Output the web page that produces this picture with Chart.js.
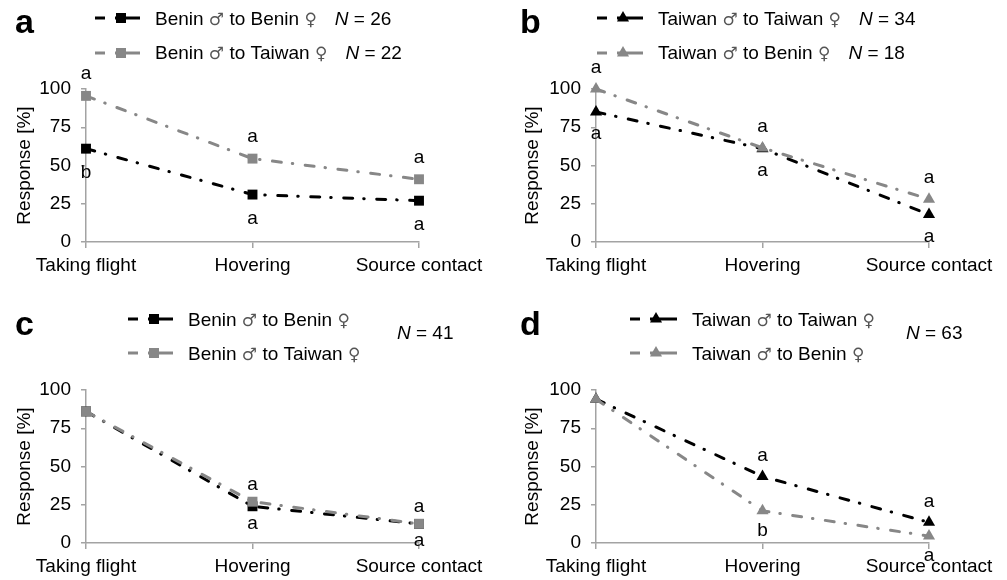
<!DOCTYPE html>
<html lang="en">
<head>
<meta charset="UTF-8">
<title>Response of males to female odour sources</title>
<script src="https://cdn.jsdelivr.net/npm/chart.js"></script>
<style>
  body { margin: 0; background: #fff; }
  #wrap { position: relative; width: 1007px; height: 580px; overflow: hidden; }
  canvas { position: absolute; }
</style>
</head>
<body>
<div id="wrap">
  <canvas id="chartA" width="503" height="290" style="left:0;top:0"></canvas>
  <canvas id="chartB" width="504" height="290" style="left:503px;top:0"></canvas>
  <canvas id="chartC" width="503" height="290" style="left:0;top:290px"></canvas>
  <canvas id="chartD" width="504" height="290" style="left:503px;top:290px"></canvas>
</div>
<script>
// categories and ticks
const stages = ['Taking flight', 'Hovering', 'Source contact'];
const yTicks = [0, 25, 50, 75, 100];

// panel a
const aBeninToBenin = [61, 31, 27];
const aBeninToTaiwan = [95.5, 54.5, 41];
const aLettersAbove = ['a', 'a', 'a'];
const aLettersBelow = ['b', 'a', 'a'];
const aN = ['26', '22'];

// panel b
const bTaiwanToTaiwan = [85, 61, 18];
const bTaiwanToBenin = [100, 61.5, 28];
const bLettersAbove = ['a', 'a', 'a'];
const bLettersBelow = ['a', 'a', 'a'];
const bN = ['34', '18'];

// panel c
const cBeninToBenin = [86, 24, 12.5];
const cBeninToTaiwan = [86, 27, 12.5];
const cLettersAbove = ['', 'a', 'a'];
const cLettersBelow = ['', 'a', 'a'];
const cN = ['41'];

// panel d
const dTaiwanToTaiwan = [94, 43.5, 13.5];
const dTaiwanToBenin = [94, 21, 4.5];
const dLettersAbove = ['', 'a', 'a'];
const dLettersBelow = ['', 'b', 'a'];
const dN = ['63'];

const BLACK = '#000000';
const GRAY = '#878787';
const AXIS = '#a3a3a3';
const FONT = 'Liberation Sans, Arial, sans-serif';
const SYMFONT = '17px DejaVu Sans';
const FS = 19;
const XAXIS_H = 36;

function drawMarker(ctx, style, x, y, color) {
    ctx.fillStyle = color;
    ctx.beginPath();
    if (style === 'triangle') {
        const r = 7;
        ctx.moveTo(x, y - r);
        ctx.lineTo(x + r * 0.866, y + r * 0.5);
        ctx.lineTo(x - r * 0.866, y + r * 0.5);
        ctx.closePath();
    } else {
        ctx.rect(x - 5, y - 5, 10, 10);
    }
    ctx.fill();
}

// draws a legend name, sex symbols in a thinner symbol font; returns the end x
function drawName(ctx, name, x, y) {
    name.split(/([\u2640\u2642])/).forEach(part => {
        if (!part) return;
        const sym = part === '\u2640' || part === '\u2642';
        ctx.font = sym ? SYMFONT : FS + 'px ' + FONT;
        ctx.fillStyle = sym ? '#555' : '#000';
        ctx.fillText(part, x, y);
        x += ctx.measureText(part).width;
    });
    ctx.fillStyle = '#000';
    return x;
}

function drawN(ctx, n, x, y) {
    ctx.font = 'italic ' + FS + 'px ' + FONT;
    ctx.fillText('N', x, y);
    const w = ctx.measureText('N').width;
    ctx.font = FS + 'px ' + FONT;
    ctx.fillText(' = ' + n, x + w, y);
}

// legend, N, panel letter and significance letters
const decor = {
    id: 'decor',
    afterDatasetsDraw(chart, args, o) {
        const ctx = chart.ctx;
        const xs = chart.scales.x, ys = chart.scales.y;
        const d0 = chart.data.datasets[0].data, d1 = chart.data.datasets[1].data;
        ctx.save();
        ctx.fillStyle = '#000';
        ctx.font = FS + 'px ' + FONT;
        ctx.textAlign = 'center';
        ctx.textBaseline = 'middle';
        stages.forEach((s, i) => {
            const x = xs.getPixelForValue(i);
            const top = ys.getPixelForValue(Math.max(d0[i], d1[i]));
            const bot = ys.getPixelForValue(Math.min(d0[i], d1[i]));
            if (o.above[i]) ctx.fillText(o.above[i], x, top - o.up);
            if (o.below[i]) ctx.fillText(o.below[i], x, bot + o.down);
        });

        // panel letter
        ctx.textAlign = 'left';
        ctx.textBaseline = 'alphabetic';
        ctx.font = 'bold 34px ' + FONT;
        ctx.fillText(o.letter, o.letterX, o.letterY);

        // legend rows
        const lg = o.legend;
        o.names.forEach((name, r) => {
            const y = lg.rows[r];
            const color = r === 0 ? BLACK : GRAY;
            ctx.strokeStyle = color;
            ctx.lineWidth = 3;
            ctx.beginPath();
            ctx.moveTo(lg.x1, y); ctx.lineTo(lg.x1 + 10, y);
            ctx.moveTo(lg.x1 + 20, y); ctx.lineTo(lg.x2, y);
            ctx.stroke();
            drawMarker(ctx, o.marker, lg.x1 + 26, y, color);
            const end = drawName(ctx, name, lg.textX, lg.base[r]);
            if (o.nInline) drawN(ctx, o.sizes[r], end + 18, lg.base[r]);
        });
        if (!o.nInline) drawN(ctx, o.sizes[0], lg.nX, lg.nY);
        ctx.restore();
    }
};

function makePanel(id, cfg) {
    const canvas = document.getElementById(id);
    const W = canvas.width, H = canvas.height;
    const a = cfg.area;
    const line = (label, data, color, order) => ({
        label, data, order,
        borderColor: color, backgroundColor: color, borderWidth: 3,
        borderDash: [9, 11, 0.5, 12.5], borderCapStyle: 'round',
        pointStyle: cfg.marker, pointRadius: 7, pointBorderWidth: 0,
        pointBackgroundColor: color, tension: 0, clip: false
    });
    return new Chart(canvas, {
        type: 'line',
        data: {
            labels: stages,
            datasets: [
                line(cfg.names[1], cfg.series[1], GRAY, 0),
                line(cfg.names[0], cfg.series[0], BLACK, 1)
            ]
        },
        options: {
            responsive: false,
            animation: false,
            events: [],
            layout: { padding: { left: 0, top: a.top, right: W - a.right, bottom: H - a.bottom - XAXIS_H } },
            plugins: {
                legend: { display: false },
                tooltip: { enabled: false },
                decor: {
                    above: cfg.above, below: cfg.below, up: cfg.up, down: cfg.down,
                    letter: cfg.letter, letterX: cfg.letterX, letterY: cfg.letterY,
                    names: cfg.names, sizes: cfg.sizes, marker: cfg.marker,
                    legend: cfg.legend, nInline: cfg.nInline
                }
            },
            scales: {
                x: {
                    offset: false,
                    grid: { drawOnChartArea: false, offset: false, color: AXIS, lineWidth: 1.5, tickLength: 6 },
                    border: { color: AXIS, width: 1.5 },
                    ticks: { color: '#000', font: { family: FONT, size: FS }, padding: 6, maxRotation: 0, autoSkip: false },
                    afterFit: s => { s.height = XAXIS_H; }
                },
                y: {
                    min: 0, max: 100,
                    afterBuildTicks: s => { s.ticks = yTicks.map(v => ({ value: v })); },
                    grid: { drawOnChartArea: false, color: AXIS, lineWidth: 1.5, tickLength: 5 },
                    border: { color: AXIS, width: 1.5 },
                    ticks: { color: '#000', font: { family: FONT, size: FS }, padding: 10 },
                    title: { display: true, text: 'Response [%]', color: '#000', font: { family: FONT, size: FS }, padding: { top: cfg.titleX - 11.4, bottom: 0 } },
                    afterFit: s => { s.width = a.left; }
                }
            }
        },
        plugins: [decor]
    });
}

makePanel('chartA', {
    series: [aBeninToBenin, aBeninToTaiwan], marker: 'rect',
    names: ['Benin \u2642 to Benin \u2640', 'Benin \u2642 to Taiwan \u2640'], sizes: aN, nInline: true,
    above: aLettersAbove, below: aLettersBelow, up: 22, down: 24,
    area: { left: 86, top: 89, right: 419, bottom: 242 }, titleX: 25,
    letter: 'a', letterX: 15, letterY: 33,
    legend: { x1: 95, x2: 140, textX: 155, rows: [18, 53], base: [25, 59] }
});
makePanel('chartB', {
    series: [bTaiwanToTaiwan, bTaiwanToBenin], marker: 'triangle',
    names: ['Taiwan \u2642 to Taiwan \u2640', 'Taiwan \u2642 to Benin \u2640'], sizes: bN, nInline: true,
    above: bLettersAbove, below: bLettersBelow, up: 21, down: 22,
    area: { left: 93, top: 89, right: 426, bottom: 242 }, titleX: 30,
    letter: 'b', letterX: 17, letterY: 33,
    legend: { x1: 94, x2: 140, textX: 155, rows: [18, 53], base: [25, 59] }
});
makePanel('chartC', {
    series: [cBeninToBenin, cBeninToTaiwan], marker: 'rect',
    names: ['Benin \u2642 to Benin \u2640', 'Benin \u2642 to Taiwan \u2640'], sizes: cN, nInline: false,
    above: cLettersAbove, below: cLettersBelow, up: 17, down: 17,
    area: { left: 86, top: 100, right: 419, bottom: 253 }, titleX: 25,
    letter: 'c', letterX: 15, letterY: 45,
    legend: { x1: 128, x2: 173, textX: 188, rows: [29, 63], base: [36, 70], nX: 397, nY: 49 }
});
makePanel('chartD', {
    series: [dTaiwanToTaiwan, dTaiwanToBenin], marker: 'triangle',
    names: ['Taiwan \u2642 to Taiwan \u2640', 'Taiwan \u2642 to Benin \u2640'], sizes: dN, nInline: false,
    above: dLettersAbove, below: dLettersBelow, up: 21, down: 20,
    area: { left: 93, top: 100, right: 426, bottom: 253 }, titleX: 30,
    letter: 'd', letterX: 17, letterY: 45,
    legend: { x1: 127, x2: 174, textX: 189, rows: [29, 63], base: [36, 70], nX: 403, nY: 49 }
});
</script>
</body>
</html>
